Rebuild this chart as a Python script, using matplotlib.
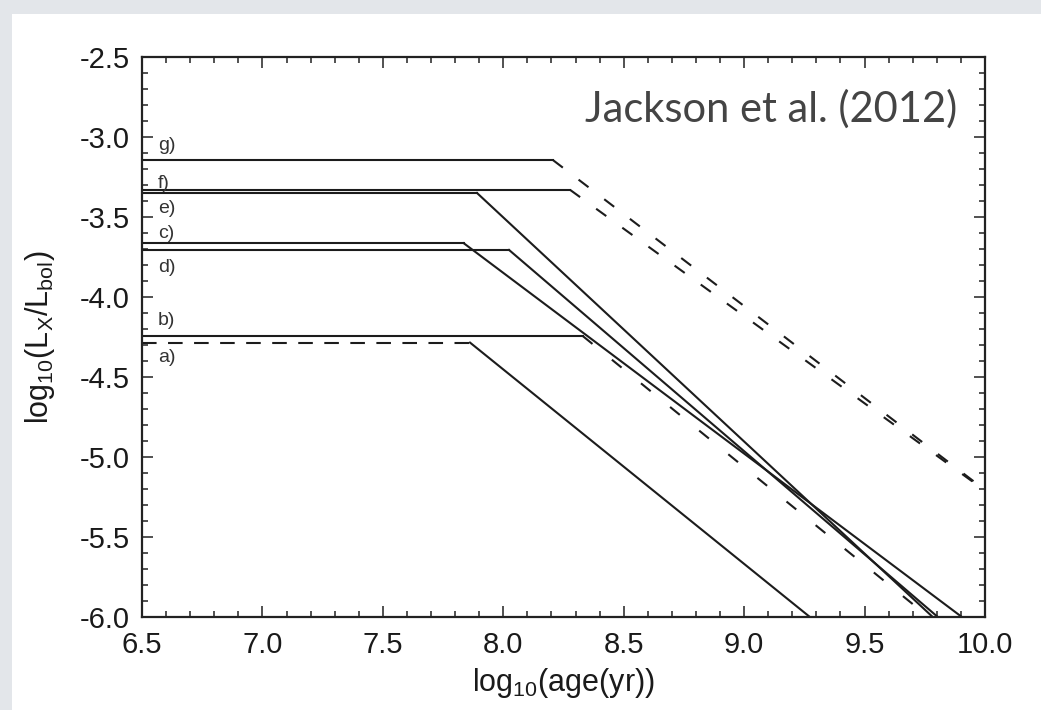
import matplotlib
matplotlib.use('Agg')
import matplotlib.pyplot as plt
from matplotlib.patches import Rectangle
from matplotlib.ticker import MultipleLocator

plt.rcParams['font.family'] = ['Liberation Sans', 'DejaVu Sans']
plt.rcParams['mathtext.default'] = 'regular'
plt.rcParams['axes.unicode_minus'] = False

# tracks a) .. g): saturated level, age where it turns over, end of the decline
labels = ['a)', 'b)', 'c)', 'd)', 'e)', 'f)', 'g)']
sat_level = [-4.285, -4.244, -3.664, -3.706, -3.350, -3.330, -3.144]
break_age = [7.862, 8.330, 7.836, 8.024, 7.891, 8.277, 8.206]
end_age = [9.273, 9.766, 9.904, 9.804, 9.783, 10.0, 10.0]
end_level = [-6.0, -6.0, -6.0, -6.0, -6.0, -5.21, -5.206]
flat_dashed = [True, False, False, False, False, False, False]
decl_dashed = [False, True, False, False, False, True, True]
# where the letters sit
label_y = [-4.381, -4.144, -3.600, -3.8125, -3.444, -3.2875, -3.056]

x_start = 6.5

fig = plt.figure(figsize=(10.41, 7.10), dpi=100)
fig.patch.set_facecolor('#e3e6ea')
fig.add_artist(Rectangle((12/1041, 0), 1 - 12/1041, 1 - 14/710,
                         transform=fig.transFigure, facecolor='white',
                         edgecolor='none', zorder=0))

ax = fig.add_axes([142/1041, 1 - 617/710, (985-142)/1041, (617-57)/710])

lc = '#1c1c1c'
lw = 1.5
for i in range(len(labels)):
    if flat_dashed[i]:
        ax.plot([x_start, break_age[i]], [sat_level[i], sat_level[i]],
                color=lc, lw=lw, dashes=(7, 5.5))
    else:
        ax.plot([x_start, break_age[i]], [sat_level[i], sat_level[i]],
                color=lc, lw=lw)
    if decl_dashed[i]:
        d = (6, 12) if i == 1 else (6, 9.5)
        ax.plot([break_age[i], end_age[i]], [sat_level[i], end_level[i]],
                color=lc, lw=lw, dashes=d)
    else:
        ax.plot([break_age[i], end_age[i]], [sat_level[i], end_level[i]],
                color=lc, lw=lw)
    ax.text(6.566, label_y[i], labels[i], fontsize=14, color='#333333',
            ha='left', va='center')

ax.set_xlim(6.5, 10.0)
ax.set_ylim(-6.0, -2.5)
ax.xaxis.set_major_locator(MultipleLocator(0.5))
ax.xaxis.set_minor_locator(MultipleLocator(0.1))
ax.yaxis.set_major_locator(MultipleLocator(0.5))
ax.yaxis.set_minor_locator(MultipleLocator(0.1))
ax.xaxis.set_major_formatter(plt.FormatStrFormatter('%.1f'))
ax.yaxis.set_major_formatter(plt.FormatStrFormatter('%.1f'))
ax.tick_params(which='both', direction='in', top=True, right=True,
               color='#222222', width=1.1)
ax.tick_params(which='major', length=8, labelsize=21, labelcolor='#1a1a1a')
ax.tick_params(axis='x', which='major', pad=10)
ax.tick_params(axis='y', which='major', pad=9)
ax.tick_params(which='minor', length=4.5)
for s in ax.spines.values():
    s.set_linewidth(1.6)
    s.set_color('#222222')

fig.text(40/1041, 1 - 337/710, r'log$_{10}$(L$_X$/L$_{bol}$)', rotation=90,
         ha='center', va='center', fontsize=22, color='#1a1a1a')
fig.text(563/1041, 1 - 683/710, r'log$_{10}$(age(yr))',
         ha='center', va='center', fontsize=22, color='#1a1a1a')

ax.text(0.967, 0.884, 'Jackson et al. (2012)', transform=ax.transAxes,
        ha='right', va='baseline', fontsize=30, color='#444444',
        family=['Lato', 'DejaVu Sans'], fontweight='normal')

fig.savefig('out.png', dpi=100, facecolor=fig.get_facecolor())
